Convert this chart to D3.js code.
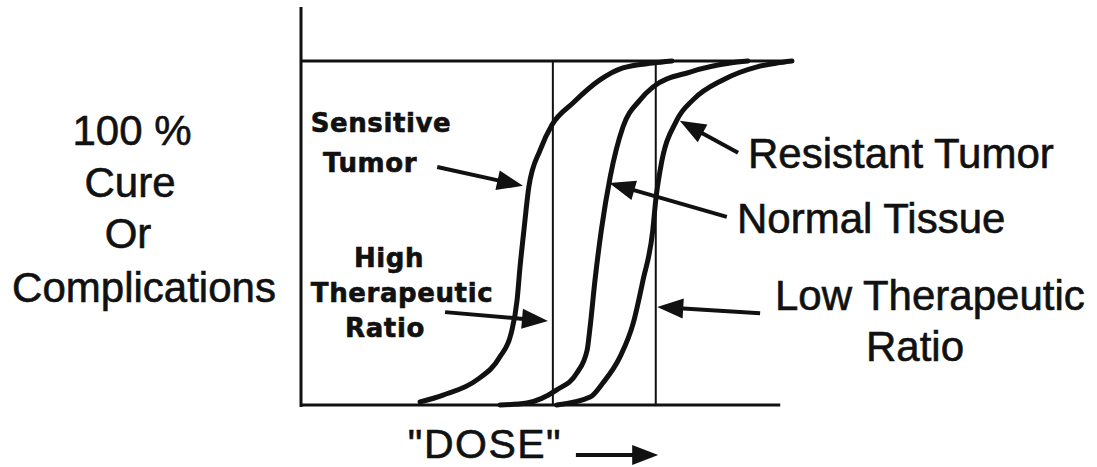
<!DOCTYPE html>
<html>
<head>
<meta charset="utf-8">
<script src="https://cdn.jsdelivr.net/npm/d3@7"></script>
<style>
  body { margin: 0; background: #fff; }
  svg text { fill: #111; stroke: #111; stroke-width: 0.6px; }
  .big { font-family: "Liberation Sans", Arial, sans-serif; font-size: 42px; }
  .bold { font-family: "DejaVu Sans", sans-serif; font-weight: bold; font-size: 26px; letter-spacing: 0.6px; }
</style>
</head>
<body>
<svg id="chart" width="1097" height="467"></svg>
<script>
// dose (arbitrary units, 0-100) and response (% cure or complications)
const sensitiveDose = [24.3, 29.0, 35.9, 40.6, 42.9, 44.1, 44.7, 45.5, 46.5, 48.8, 51.2, 55.5, 61.0, 65.7, 71.8, 75.7];
const sensitivePct  = [0.9, 2.9, 7.3, 14.0, 20.9, 30.5, 40.1, 50.9, 63.4, 74.1, 81.4, 87.8, 94.5, 98.0, 99.4, 100];

const normalDose = [40.6, 46.1, 52.2, 56.3, 58.4, 59.0, 60.0, 61.3, 63.1, 65.7, 69.2, 71.8, 79.4, 87.6, 91.2];
const normalPct  = [0, 0.6, 4.4, 9.3, 16.0, 22.7, 36.3, 50.9, 66.3, 80.8, 88.7, 92.4, 96.8, 99.4, 100];

const resistantDose = [52.2, 59.0, 61.6, 65.1, 67.8, 69.8, 71.8, 72.4, 73.3, 76.7, 80.0, 86.1, 93.1, 97.1, 100.2];
const resistantPct  = [0, 2.3, 6.4, 14.0, 23.8, 36.3, 50.9, 59.6, 68.3, 82.8, 88.7, 94.5, 98.3, 99.4, 100];

// doses marking the high / low therapeutic ratio
const ratioDoses = [51.4, 72.4];

const yLabelLines = ["100 %", "Cure", "Or", "Complications"];

const svg = d3.select("#chart");

const x = d3.scaleLinear().domain([0, 100]).range([301, 791]);
const y = d3.scaleLinear().domain([0, 100]).range([405, 61]);

const line = d3.line()
    .x(d => x(d[0]))
    .y(d => y(d[1]))
    .curve(d3.curveMonotoneX);

// frame: y axis, 100% line, dose axis
svg.append("line")
    .attr("x1", x(0)).attr("x2", x(0))
    .attr("y1", y(-0.6)).attr("y2", y(115.7))
    .attr("stroke", "#111").attr("stroke-width", 3);
svg.append("line")
    .attr("x1", x(0)).attr("x2", x(100.2))
    .attr("y1", y(100)).attr("y2", y(100))
    .attr("stroke", "#111").attr("stroke-width", 3);
svg.append("line")
    .attr("x1", x(0)).attr("x2", x(97.8))
    .attr("y1", y(0)).attr("y2", y(0))
    .attr("stroke", "#111").attr("stroke-width", 3);

svg.selectAll(".ratio")
    .data(ratioDoses)
    .enter()
    .append("line")
    .attr("class", "ratio")
    .attr("x1", d => x(d)).attr("x2", d => x(d))
    .attr("y1", y(0)).attr("y2", y(100))
    .attr("stroke", "#111").attr("stroke-width", 2);

const curves = [
    d3.zip(sensitiveDose, sensitivePct),
    d3.zip(normalDose, normalPct),
    d3.zip(resistantDose, resistantPct)
];

svg.selectAll(".curve")
    .data(curves)
    .enter()
    .append("path")
    .attr("class", "curve")
    .attr("d", line)
    .attr("fill", "none")
    .attr("stroke", "#111")
    .attr("stroke-width", 5)
    .attr("stroke-linecap", "round");

// arrows: [from dose, from pct, to dose, to pct]
const arrows = [
    [27.8, 69.2, 45.3, 63.7],
    [29.4, 27.0, 50.4, 24.4],
    [89.2, 73.3, 77.3, 82.6],
    [86.9, 54.7, 62.9, 64.5],
    [93.7, 26.7, 72.7, 28.5],
    [56.1, -14.5, 72.9, -14.5]
];

function drawArrow(a) {
    const x1 = x(a[0]), y1 = y(a[1]), x2 = x(a[2]), y2 = y(a[3]);
    const dx = x2 - x1, dy = y2 - y1;
    const len = Math.sqrt(dx * dx + dy * dy);
    const ux = dx / len, uy = dy / len;
    const headLen = 26, headW = 10;
    const bx = x2 - ux * headLen, by = y2 - uy * headLen;
    svg.append("line")
        .attr("x1", x1).attr("y1", y1)
        .attr("x2", bx + ux * 4).attr("y2", by + uy * 4)
        .attr("stroke", "#111").attr("stroke-width", 4);
    svg.append("path")
        .attr("d", `M${x2},${y2}L${bx - uy * headW},${by + ux * headW}L${bx + uy * headW},${by - ux * headW}Z`)
        .attr("fill", "#111");
}
arrows.forEach(drawArrow);

// labels
const yLabelBase = [145, 197, 248, 302];
const yLabelX = [132, 130, 128, 144];
svg.selectAll(".ylab")
    .data(yLabelLines)
    .enter()
    .append("text")
    .attr("class", "big")
    .attr("text-anchor", "middle")
    .attr("x", (d, i) => yLabelX[i])
    .attr("y", (d, i) => yLabelBase[i])
    .text(d => d);

function bigText(t, px, py, anchor) {
    svg.append("text")
        .attr("class", "big")
        .attr("text-anchor", anchor || "start")
        .attr("x", px).attr("y", py)
        .text(t);
}
bigText("Resistant Tumor", 748, 168);
bigText("Normal Tissue", 737, 233);
bigText("Low Therapeutic", 775, 310);
bigText("Ratio", 915, 361, "middle");

svg.append("text")
    .attr("class", "big")
    .attr("text-anchor", "middle")
    .attr("x", 485).attr("y", 458)
    .style("font-size", "41px")
    .style("letter-spacing", "1.5px")
    .text("\"DOSE\"");

function boldText(t, px, py) {
    svg.append("text")
        .attr("class", "bold")
        .attr("text-anchor", "middle")
        .attr("x", px).attr("y", py)
        .text(t);
}
boldText("Sensitive", 381, 132);
boldText("Tumor", 370, 172);
boldText("High", 389, 267);
boldText("Therapeutic", 402, 302);
boldText("Ratio", 385, 337);
</script>
</body>
</html>
